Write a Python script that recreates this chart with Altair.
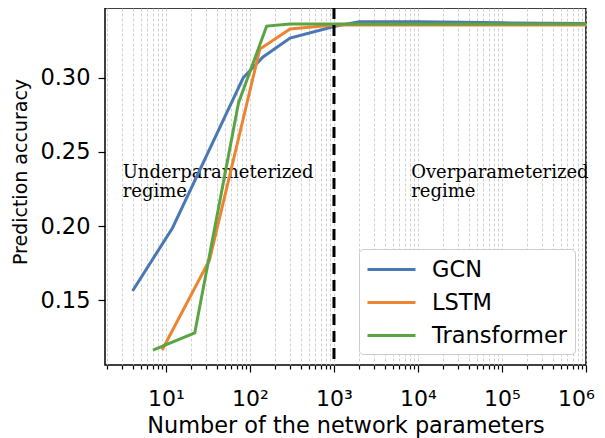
import altair as alt
import pandas as pd

# ---- data ----
series = ["GCN", "LSTM", "Transformer"]
colors = ["#4a78b5", "#ec8431", "#5aa444"]

gcn_x = [4, 12, 83, 143, 300, 1000, 2000, 10000, 100000, 1000000]
gcn_y = [0.1563, 0.1989, 0.300, 0.314, 0.3267, 0.3345, 0.3378, 0.3378, 0.3370, 0.3365]
lstm_x = [9, 33, 131, 300, 1000, 1000000]
lstm_y = [0.1165, 0.1772, 0.3193, 0.3328, 0.3355, 0.3355]
tr_x = [7, 22, 73, 158, 300, 1000, 1000000]
tr_y = [0.1165, 0.128, 0.283, 0.3348, 0.3362, 0.3362, 0.3362]

threshold = [1000]
y_ticks = [0.15, 0.20, 0.25, 0.30]
major_ticks = [10, 100, 1000, 10000, 100000, 1000000]
sup = ["\u00b9", "\u00b2", "\u00b3", "\u2074", "\u2075", "\u2076"]
minor_ticks = [m * 10 ** k for k in range(0, 6) for m in range(2, 10)]
x_ticks = sorted(minor_ticks + major_ticks)

ann_text = [["Underparameterized", "regime"], ["Overparameterized", "regime"]]
ann_x = [3.05, 8300]
ann_y = [0.2322, 0.2322]

rows = []
for name, xs, ys in [("GCN", gcn_x, gcn_y), ("LSTM", lstm_x, lstm_y), ("Transformer", tr_x, tr_y)]:
    for i, (a, b) in enumerate(zip(xs, ys)):
        rows.append({"series": name, "params": a, "acc": b, "order": i})
df = pd.DataFrame(rows)

label_expr = " : ".join(
    f"datum.value == {v} ? '10{s}'" for v, s in zip(major_ticks, sup)
) + " : ''"
major_test = "indexof([" + ",".join(str(v) for v in major_ticks) + "], datum.value) >= 0"

FONT = "DejaVu Sans"
x_scale = alt.Scale(type="log", domain=[1.88, 1000000], nice=False)
y_scale = alt.Scale(domain=[0.1064, 0.3470], nice=False, zero=False)

x_axis = alt.Axis(
    values=x_ticks,
    labelExpr=label_expr,
    tickSize={"condition": {"test": major_test, "value": 7}, "value": 4},
    tickColor="black",
    tickWidth=1.2,
    grid=True,
    gridColor="#c4c4c4",
    gridDash=[3, 2],
    gridWidth=0.8,
    domain=False,
    labelFont=FONT,
    labelFontSize=22,
    labelColor="black",
    labelBaseline="alphabetic",
    labelPadding=33,
    labelFlush=False,
    labelOverlap=False,
    labelOffset={"condition": {"test": "datum.value == 1000000", "value": -10}, "value": 0},
    title="Number of the network parameters",
    titleFont=FONT,
    titleFontSize=22.4,
    titleFontWeight="normal",
    titleColor="black",
    titleBaseline="alphabetic",
    titleY=67,
)
y_axis = alt.Axis(
    values=y_ticks,
    format=".2f",
    tickSize=7,
    tickColor="black",
    tickWidth=1.2,
    grid=False,
    domain=False,
    labelFont=FONT,
    labelFontSize=22.5,
    labelColor="black",
    labelPadding=8,
    title="Prediction accuracy",
    titleFont=FONT,
    titleFontSize=19,
    titleFontWeight="normal",
    titleColor="black",
    titleAngle=-90,
    titleAlign="center",
    titleBaseline="alphabetic",
    titleX=-79,
    titleY=163.5,
)

lines = alt.Chart(df).mark_line(strokeWidth=3, clip=True).encode(
    x=alt.X("params:Q", scale=x_scale, axis=x_axis),
    y=alt.Y("acc:Q", scale=y_scale, axis=y_axis),
    color=alt.Color(
        "series:N",
        scale=alt.Scale(domain=series, range=colors),
        legend=alt.Legend(
            title=None,
            orient="none",
            legendX=254,
            legendY=241,
            symbolType="M-1,0H3",
            symbolSize=576,
            symbolStrokeWidth=3,
            labelFont=FONT,
            labelFontSize=22.5,
            labelColor="black",
            labelOffset=39,
            padding=7,
            rowPadding=8,
            fillColor="white",
            strokeColor="#cccccc",
            cornerRadius=4,
        ),
    ),
    order="order:Q",
)

vline = alt.Chart(pd.DataFrame({"params": threshold})).mark_rule(
    color="black", strokeWidth=3, strokeDash=[11, 6]
).encode(x=alt.X("params:Q", scale=x_scale))

ann = alt.Chart(pd.DataFrame({"t": ann_text, "params": ann_x, "acc": ann_y})).mark_text(
    align="left", baseline="alphabetic", font="DejaVu Serif", fontSize=18,
    lineHeight=19, color="black"
).encode(
    x=alt.X("params:Q", scale=x_scale),
    y=alt.Y("acc:Q", scale=y_scale),
    text="t",
)

chart = alt.layer(ann, lines, vline).properties(
    width=481,
    height=357,
    autosize=alt.AutoSizeParams(type="none"),
    padding={"left": 97, "top": 0, "right": 11, "bottom": 73},
).configure_view(stroke="black", strokeWidth=1.5)

chart.save("out.html", embed_options={"renderer": "svg", "actions": False})
